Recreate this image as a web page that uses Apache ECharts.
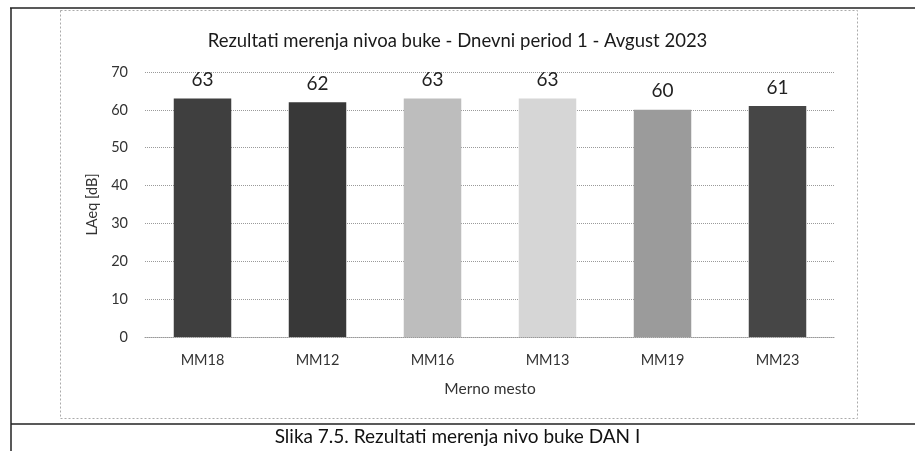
<!DOCTYPE html>
<html>
<head>
<meta charset="utf-8">
<script src="https://cdn.jsdelivr.net/npm/echarts@6/dist/echarts.min.js"></script>
<style>
  html, body { margin: 0; padding: 0; background: #fff; }
  #chart { width: 915px; height: 451px; }
</style>
</head>
<body>
<div id="chart"></div>
<script>
// Measurement points and daytime noise levels (LAeq, dB)
const categories = ['MM18', 'MM12', 'MM16', 'MM13', 'MM19', 'MM23'];
const levels = [63, 62, 63, 63, 60, 61];
const barColors = ['#3f3f3f', '#383838', '#bdbdbd', '#d6d6d6', '#9b9b9b', '#464646'];
const yTicks = { min: 0, max: 70, step: 10 };

const FONT = 'Lato, "Open Sans", sans-serif';

const chart = echarts.init(document.getElementById('chart'), null, { renderer: 'canvas' });

chart.setOption({
  backgroundColor: '#ffffff',
  animation: false,
  title: {
    text: 'Rezultati merenja nivoa buke - Dnevni period 1 - Avgust 2023',
    left: 'center',
    top: 27,
    textStyle: { fontFamily: FONT, fontSize: 18.5, fontWeight: 'normal', color: '#1a1a1a' }
  },
  grid: { left: 145, right: 80, top: 72, bottom: 114 },
  xAxis: {
    type: 'category',
    data: categories,
    name: 'Merno mesto',
    nameLocation: 'middle',
    nameGap: 44,
    nameTextStyle: { fontFamily: FONT, fontSize: 15.5, color: '#333' },
    axisLine: { show: true, lineStyle: { color: '#999', type: 'dotted' } },
    axisTick: { show: false },
    axisLabel: { fontFamily: FONT, fontSize: 14.5, color: '#333', margin: 16 }
  },
  yAxis: {
    type: 'value',
    min: yTicks.min,
    max: yTicks.max,
    interval: yTicks.step,
    name: 'LAeq [dB]',
    nameLocation: 'middle',
    nameGap: 44,
    nameTextStyle: { fontFamily: FONT, fontSize: 14.5, color: '#333' },
    axisLine: { show: false },
    axisTick: { show: false },
    axisLabel: { fontFamily: FONT, fontSize: 14.5, color: '#333', margin: 17 },
    splitLine: { show: true, lineStyle: { color: '#9a9a9a', type: 'dotted', width: 1 } }
  },
  series: [{
    type: 'bar',
    data: levels.map((v, i) => ({ value: v, itemStyle: { color: barColors[i] } })),
    barWidth: '50%',
    label: {
      show: true,
      position: 'top',
      distance: 9,
      fontFamily: FONT,
      fontSize: 19,
      color: '#222'
    }
  }],
  graphic: [
    // dotted outline of the chart block
    { type: 'rect', shape: { x: 60.5, y: 10.5, width: 797, height: 408 },
      style: { fill: null, stroke: '#aaa', lineWidth: 1, lineDash: [2, 2] }, silent: true },
    // page frame lines
    { type: 'line', shape: { x1: 10, y1: 8, x2: 915, y2: 8 }, style: { stroke: '#222', lineWidth: 1.5 } },
    { type: 'line', shape: { x1: 11, y1: 8, x2: 11, y2: 451 }, style: { stroke: '#222', lineWidth: 1.5 } },
    { type: 'line', shape: { x1: 11, y1: 424, x2: 915, y2: 424 }, style: { stroke: '#222', lineWidth: 1.5 } },
    // figure caption
    { type: 'text', left: 'center', top: 427,
      style: { text: 'Slika 7.5. Rezultati merenja nivo buke DAN I', fontFamily: FONT, fontSize: 19, fill: '#111' } }
  ]
});
</script>
</body>
</html>
